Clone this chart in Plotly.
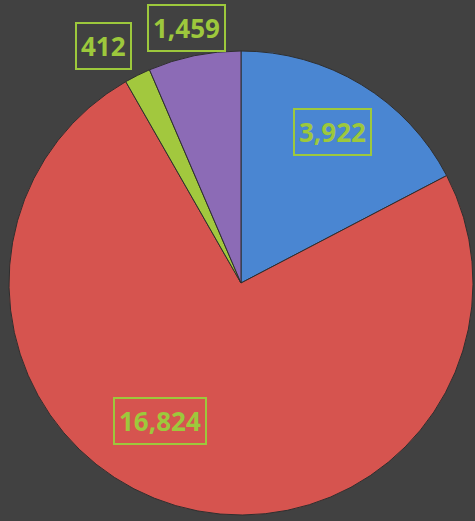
import math
import plotly.graph_objects as go

# ---- data ----
categories = ["Category 1", "Category 2", "Category 3", "Category 4"]
values = [3922, 16824, 412, 1459]

# ---- style ----
W, H = 475, 521
slice_colors = ["#4a86d2", "#d6544f", "#a2c83e", "#8c6bb6"]
bg = "#414141"
label_color = "#9dc83c"
# label placement (fraction of radius, angular shift in degrees)
label_rfrac = [0.76, 0.69, 1.18, 1.125]
label_shift = [0, 14, -3.7, -0.5]
label_bg = ["rgba(0,0,0,0)", "rgba(0,0,0,0)", bg, bg]

dom_x = [9 / W, 473 / W]
dom_y = [1 - 515 / H, 1 - 51 / H]

fig = go.Figure(go.Pie(
    labels=categories,
    values=values,
    sort=False,
    direction="clockwise",
    rotation=0,
    marker=dict(colors=slice_colors, line=dict(color="#2f2f2f", width=1)),
    textinfo="none",
    hoverinfo="label+value",
    domain=dict(x=dom_x, y=dom_y),
    showlegend=False,
))

# label positions derived from the data (slice mid-angles)
cx = (dom_x[0] + dom_x[1]) / 2 * W
cy = (1 - (dom_y[0] + dom_y[1]) / 2) * H
R = min((dom_x[1] - dom_x[0]) * W, (dom_y[1] - dom_y[0]) * H) / 2
total = sum(values)
cum = 0
annotations = []
for i, v in enumerate(values):
    mid = (cum + v / 2) / total * 360 + label_shift[i]
    cum += v
    a = math.radians(mid)
    r = R * label_rfrac[i]
    px = cx + r * math.sin(a)
    py = cy - r * math.cos(a)
    annotations.append(dict(
        x=px / W, y=1 - py / H, xref="paper", yref="paper",
        xanchor="center", yanchor="middle", showarrow=False,
        text=f"<b>{v:,}</b>",
        font=dict(family="Open Sans", size=26, color=label_color),
        bordercolor=label_color, borderwidth=2, borderpad=4,
        bgcolor=label_bg[i],
    ))

fig.update_layout(
    width=W, height=H,
    margin=dict(l=0, r=0, t=0, b=0),
    paper_bgcolor=bg,
    plot_bgcolor=bg,
    annotations=annotations,
)

fig.write_html(
    "out.html",
    config={"displayModeBar": False},
    post_script="document.body.style.margin='0';document.body.style.overflow='hidden';document.body.style.background='%s';" % bg,
)
